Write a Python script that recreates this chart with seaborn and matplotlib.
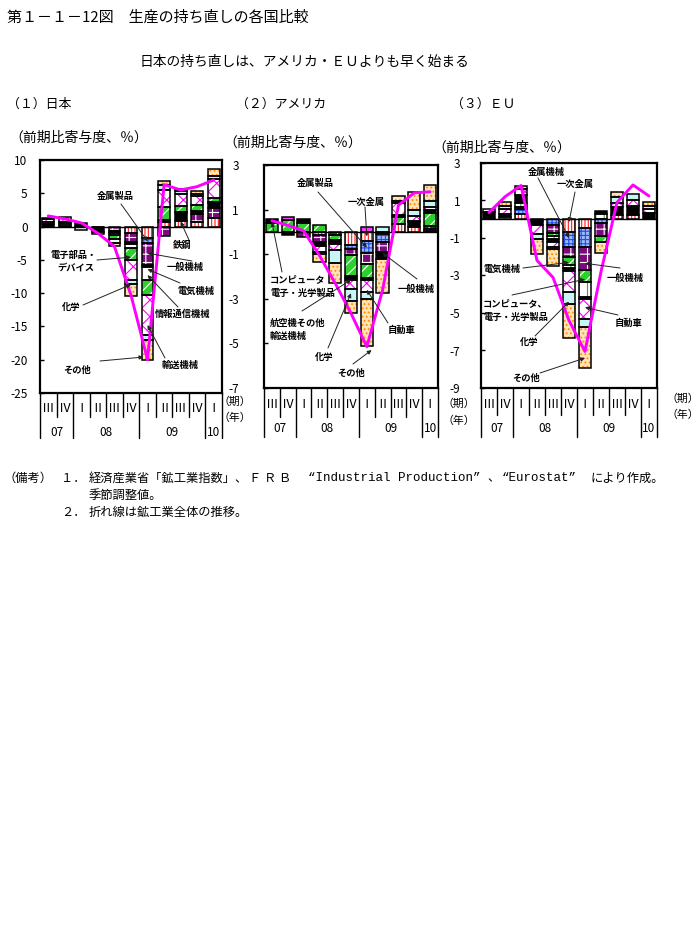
import numpy as np
import matplotlib
matplotlib.use("Agg")
import matplotlib.pyplot as plt
import seaborn as sns

sns.set_theme(style="white")
plt.rcParams["font.family"] = ["Noto Sans CJK JP", "DejaVu Sans"]
plt.rcParams["axes.unicode_minus"] = False
plt.rcParams["hatch.linewidth"] = 0.8

W, H = 698, 947

# ---------------- data ----------------
QUARTER_LABELS = ["Ⅲ", "Ⅳ", "Ⅰ", "Ⅱ", "Ⅲ", "Ⅳ", "Ⅰ", "Ⅱ", "Ⅲ", "Ⅳ", "Ⅰ"]
YEAR_LABELS = ["07", "08", "09", "10"]
YEAR_SPANS = [2, 4, 4, 1]

# Japan (contribution, %)
JP_TEKKO   = [0, 0, 0, 0, 0, -1.0, -1.75, 0.65, 0.8, 0.75, 1.25]
JP_KINZOKU = [0, 0, 0, 0, 0, 0, -0.65, 0, 0, 0, 0]
JP_IPPAN   = [0, 0, 0, -0.1, -0.7, -1.25, -3.35, -1.45, 0, 1.1, 1.5]
JP_DENKI   = [0.4, 0.15, 0.5, -0.7, -0.3, -0.35, -0.35, 0.35, 1.2, 0.5, 0.75]
JP_JOHO    = [0, 0.2, -0.5, -0.3, -0.25, -0.65, -1.9, 0, 0.25, 0, 0.15]
JP_DENSHI  = [0.35, 0.35, 0, 0, -0.65, -1.75, -2.25, 2.0, 0.9, 0.9, 0.6]
JP_YUSO    = [0.35, 0.8, 0, 0, -0.6, -3.1, -6.0, 2.5, 1.7, 1.35, 2.9]
JP_KAGAKU  = [0, 0, 0, 0, 0, -0.6, -0.75, 0.75, 0.5, 0.3, 0.5]
JP_SONOTA  = [0.25, 0, 0, 0, -0.4, -1.7, -3.0, 0.6, 0.3, 0.45, 1.0]
JP_TOTAL   = [1.6, 1.15, 0.55, -1.0, -3.0, -10.3, -20.0, 6.3, 5.5, 6.0, 7.0]

# United States
US_ICHIJI  = [0, 0, 0, -0.15, 0, -0.58, -0.43, -0.1, 0.35, 0.2, 0.05]
US_KINZOKU = [0, 0, 0, 0, 0, -0.2, -0.52, -0.35, 0, 0, 0.1]
US_IPPAN   = [0, 0, -0.25, -0.3, -0.15, -0.25, -0.5, -0.45, 0, 0, 0.1]
US_COMP    = [0.38, 0.55, 0.4, 0.3, -0.2, -0.95, -0.6, 0, 0.3, 0, 0.6]
US_DENKI   = [0.18, -0.15, 0.16, -0.2, -0.1, -0.07, -0.1, -0.3, 0.1, 0.25, 0.15]
US_KOKU    = [0, 0.13, 0, 0, -0.1, -0.1, 0.2, 0, 0, 0.05, 0]
US_JIDOSHA = [0, 0, 0, -0.25, -0.25, -0.4, -0.55, 0, 0.55, 0.2, 0.1]
US_KAGAKU  = [0, 0, 0, -0.1, -0.6, -0.55, -0.3, 0.2, 0.1, 0.3, 0.3]
US_SONOTA  = [0, 0, 0, -0.36, -0.9, -0.55, -2.1, -1.55, 0.2, 0.77, 0.7]
US_TOTAL   = [0.5, 0.3, 0.05, -1.05, -2.3, -3.65, -5.15, -2.6, 1.2, 1.75, 1.8]

# EU
EU_ICHIJI  = [0, 0, 0.27, 0, 0, -0.66, -0.48, 0, 0.25, 0.2, 0]
EU_KINZOKU = [0, 0, 0.3, -0.1, -0.3, -0.8, -1.0, -0.2, 0, 0, 0]
EU_IPPAN   = [0, 0, 0, 0, -0.45, -0.54, -1.25, -0.72, 0, 0, 0]
EU_DENKI   = [0, 0, 0.1, 0, -0.15, -0.44, -0.6, -0.3, 0, 0, 0]
EU_COMP    = [0, 0.14, 0.2, 0, -0.15, -0.15, -0.8, 0.28, 0, 0, 0]
EU_OTHER_M = [0.4, 0.14, 0.43, -0.2, -0.15, -0.17, -0.15, 0.16, 0.42, 0.5, 0.35]
EU_JIDOSHA = [0.13, 0.25, 0.3, -0.5, -0.3, -1.1, -1.05, 0, 0.21, 0.35, 0.17]
EU_KAGAKU  = [0, 0.2, 0, -0.25, -0.1, -0.64, -0.4, 0, 0.32, 0.28, 0.2]
EU_SONOTA  = [0, 0.17, 0.18, -0.78, -0.9, -1.85, -2.2, -0.6, 0.23, 0, 0.18]
EU_TOTAL   = [0.36, 1.2, 1.8, -2.2, -3.1, -5.4, -7.05, -2.8, 0.9, 1.83, 1.24]

# ---------------- styles ----------------
PATTERNS = {
    "red":     ("white",   "#ff1a1a", "|||||"),
    "blue":    ("#9db8ff", "#1f4fe6", "++++"),
    "purple":  ("#7a0a7a", "white",   "++"),
    "black":   ("black",   "black",   None),
    "white":   ("white",   "white",   None),
    "green":   ("#2ed02e", "white",   "///"),
    "gdash":   ("white",   "#18b818", "||"),
    "mcross":  ("white",   "#ff00ff", "xx"),
    "magenta": ("#ff3cff", "#ff3cff", None),
    "cyan":    ("#c8f6f6", "#c8f6f6", None),
    "orange":  ("#ffe2b8", "#ff8c00", "...."),
}

JP_SERIES = [(JP_TEKKO, "red"), (JP_KINZOKU, "blue"), (JP_IPPAN, "purple"),
             (JP_DENKI, "black"), (JP_JOHO, "white"), (JP_DENSHI, "green"),
             (JP_YUSO, "mcross"), (JP_KAGAKU, "cyan"), (JP_SONOTA, "orange")]
US_SERIES = [(US_ICHIJI, "red"), (US_KINZOKU, "blue"), (US_IPPAN, "purple"),
             (US_COMP, "green"), (US_DENKI, "black"), (US_KOKU, "magenta"),
             (US_JIDOSHA, "mcross"), (US_KAGAKU, "cyan"), (US_SONOTA, "orange")]
EU_SERIES = [(EU_ICHIJI, "red"), (EU_KINZOKU, "blue"), (EU_IPPAN, "purple"),
             (EU_DENKI, "green"), (EU_COMP, "gdash"), (EU_OTHER_M, "black"),
             (EU_JIDOSHA, "mcross"), (EU_KAGAKU, "cyan"), (EU_SONOTA, "orange")]

fig = plt.figure(figsize=(W / 100, H / 100), dpi=100)
fig.patch.set_facecolor("white")


def ftext(x, y, s, **kw):
    kw.setdefault("ha", "left")
    kw.setdefault("va", "center")
    kw.setdefault("color", "black")
    fig.text(x / W, 1 - y / H, s, **kw)


def add_axes(l, t, r, b):
    return fig.add_axes([l / W, 1 - b / H, (r - l) / W, (b - t) / H])


def draw_panel(ax, series, total, ylim, yticks, width, pad):
    n = len(QUARTER_LABELS)
    x = np.arange(n)
    pos = np.zeros(n)
    neg = np.zeros(n)
    for vals, pat in series:
        v = np.asarray(vals, float)
        bottom = np.where(v >= 0, pos, neg)
        fc, hc, hatch = PATTERNS[pat]
        sns.barplot(x=x, y=v, native_scale=True, orient="x", bottom=bottom,
                    color=fc, saturation=1, width=width, errorbar=None,
                    edgecolor=hc, linewidth=0, hatch=hatch, ax=ax, zorder=2)
        lw = np.where(np.abs(v) > 1e-9, 1.1, 0.0)
        sns.barplot(x=x, y=v, native_scale=True, orient="x", bottom=bottom,
                    color="black", fill=False, width=width, errorbar=None,
                    edgecolor="black", linewidth=lw, ax=ax, zorder=3)
        pos += np.clip(v, 0, None)
        neg += np.clip(v, None, 0)
    ax.axhline(0, color="black", lw=1.0, zorder=4)
    sns.lineplot(x=x, y=total, color="#ff00ff", linewidth=2.1, ax=ax, zorder=5)
    ax.set_xlim(-0.5, n - 0.5)
    ax.set_ylim(*ylim)
    ax.set_yticks(yticks)
    ax.set_yticklabels([str(t) for t in yticks])
    ax.set_xticks([])
    ax.set_xlabel("")
    ax.set_ylabel("")
    for s in ax.spines.values():
        s.set_visible(True)
        s.set_linewidth(1.6)
        s.set_color("black")
    ax.tick_params(axis="y", direction="in", length=3, width=1, pad=pad,
                   labelsize=8.5, colors="black", left=True)


def draw_table(ax, ax_h, q_len, y_len, q_y, y_y):
    n = len(QUARTER_LABELS)
    tr = ax.get_xaxis_transform()
    bounds = np.cumsum([0] + YEAR_SPANS)
    for i in range(n + 1):
        ln = y_len if i in bounds else q_len
        ax.plot([i - 0.5, i - 0.5], [0, -ln / ax_h], color="black", lw=1.0,
                transform=tr, clip_on=False)
    for i, q in enumerate(QUARTER_LABELS):
        ax.text(i, -q_y / ax_h, q, transform=tr, ha="center", va="center",
                fontsize=9, color="black")
    for k, yl in enumerate(YEAR_LABELS):
        c = (bounds[k] + bounds[k + 1] - 1) / 2
        ax.text(c, -y_y / ax_h, yl, transform=tr, ha="center", va="center",
                fontsize=8.5, color="black")


def notes(ax, specs, fs=6.7):
    for lines, pts, start, tip in specs:
        for s, (tx, ty) in zip(lines, pts):
            ftext(tx, ty, s, fontsize=fs, fontweight="bold")
        ax.annotate("", xy=tip, xycoords="data",
                    xytext=(start[0], H - start[1]), textcoords="figure pixels",
                    arrowprops=dict(arrowstyle="-|>", color="#222222", lw=0.7,
                                    mutation_scale=6, shrinkA=0, shrinkB=0),
                    annotation_clip=False, zorder=6)


# ---------------- panels ----------------
ax_jp = add_axes(40, 160, 222, 393)
draw_panel(ax_jp, JP_SERIES, JP_TOTAL, (-25, 10), list(range(-25, 11, 5)), 0.71, 9)
draw_table(ax_jp, 233, 24, 45, 15, 40)

ax_us = add_axes(264, 165, 438, 388)
draw_panel(ax_us, US_SERIES, US_TOTAL, (-7, 3), [-7, -5, -3, -1, 1, 3], 0.78, 18)
draw_table(ax_us, 223, 29, 49, 17, 40)

ax_eu = add_axes(481, 163, 657, 388)
draw_panel(ax_eu, EU_SERIES, EU_TOTAL, (-9, 3), [-9, -7, -5, -3, -1, 1, 3], 0.71, 15)
draw_table(ax_eu, 225, 27, 49, 17, 40)

notes(ax_jp, [
    (["金属製品"], [(97, 196)], (121, 204), (6, -2.2)),
    (["鉄鋼"], [(173, 245)], (189, 240), (8, 0.75)),
    (["一般機械"], [(167, 267)], (192, 261), (6, -4.0)),
    (["電気機械"], [(177, 291)], (180, 283), (6, -6.4)),
    (["情報通信機械"], [(155, 314)], (178, 307), (6, -7.3)),
    (["輸送機械"], [(162, 365)], (165, 358), (6, -14.8)),
    (["電子部品・", "デバイス"], [(50, 255), (57, 268)], (97, 260), (5, -4.6)),
    (["化学"], [(62, 307)], (83, 305), (5, -8.7)),
    (["その他"], [(63, 370)], (100, 361), (5.75, -19.6)),
])
notes(ax_us, [
    (["金属製品"], [(297, 183)], (318, 192), (6, -0.7)),
    (["一次金属"], [(348, 202)], (365, 207), (6, -0.2)),
    (["コンピュータ", "電子・光学製品"], [(270, 280), (270, 293)], (282, 272), (0, 0.43)),
    (["一般機械"], [(398, 289)], (417, 279), (7, -0.95)),
    (["航空機その他", "輸送機械"], [(270, 323), (270, 336)], (302, 311), (5, -2.15)),
    (["自動車"], [(388, 330)], (388, 323), (6, -2.6)),
    (["化学"], [(315, 357)], (328, 348), (5, -2.75)),
    (["その他"], [(337, 373)], (353, 364), (6.3, -5.3)),
])
notes(ax_eu, [
    (["金属機械"], [(528, 172)], (538, 178), (5, -1.0)),
    (["一次金属"], [(557, 184)], (575, 192), (5, -0.15)),
    (["電気機械"], [(483, 269)], (523, 268), (5, -2.3)),
    (["一般機械"], [(607, 278)], (620, 268), (6, -2.35)),
    (["コンピュータ、", "電子・光学製品"], [(483, 304), (483, 317)], (512, 295), (6, -3.2)),
    (["化学"], [(520, 342)], (535, 336), (5, -4.4)),
    (["自動車"], [(615, 323)], (618, 315), (6, -4.7)),
    (["その他"], [(512, 378)], (540, 373), (6, -7.4)),
])

# ---------------- texts ----------------
ftext(7, 18, "第１－１－12図　生産の持ち直しの各国比較", fontsize=10.8)
ftext(140, 62, "日本の持ち直しは、アメリカ・ＥＵよりも早く始まる", fontsize=9.9)
ftext(7, 104, "（１）日本", fontsize=9.3)
ftext(236, 104, "（２）アメリカ", fontsize=9.3)
ftext(451, 104, "（３）ＥＵ", fontsize=9.3)
ftext(9, 138, "（前期比寄与度、％）", fontsize=10)
ftext(223, 143, "（前期比寄与度、％）", fontsize=10)
ftext(432, 148, "（前期比寄与度、％）", fontsize=10)

for (xx, y1, y2) in [(218, 402, 418), (443, 404, 421), (666, 399, 415)]:
    ftext(xx, y1, "（期）", fontsize=7.8)
    ftext(xx, y2, "（年）", fontsize=7.8)

ftext(4, 478, "（備考）", fontsize=8.8)
ftext(61, 478, "１．", fontsize=8.8)
ftext(89, 478, "経済産業省「鉱工業指数」、", fontsize=8.8)
ftext(249, 478, "Ｆ Ｒ Ｂ", fontsize=8.8)
ftext(308, 478, "“Industrial Production”", fontsize=9, family=["Liberation Mono", "Noto Sans CJK JP"])
ftext(487, 478, "、", fontsize=8.8)
ftext(502, 478, "“Eurostat”", fontsize=9, family=["Liberation Mono", "Noto Sans CJK JP"])
ftext(591, 478, "により作成。", fontsize=8.8)
ftext(89, 495, "季節調整値。", fontsize=8.8)
ftext(61, 512, "２．", fontsize=8.8)
ftext(89, 512, "折れ線は鉱工業全体の推移。", fontsize=8.8)

fig.savefig("out.png", dpi=100, facecolor="white")
